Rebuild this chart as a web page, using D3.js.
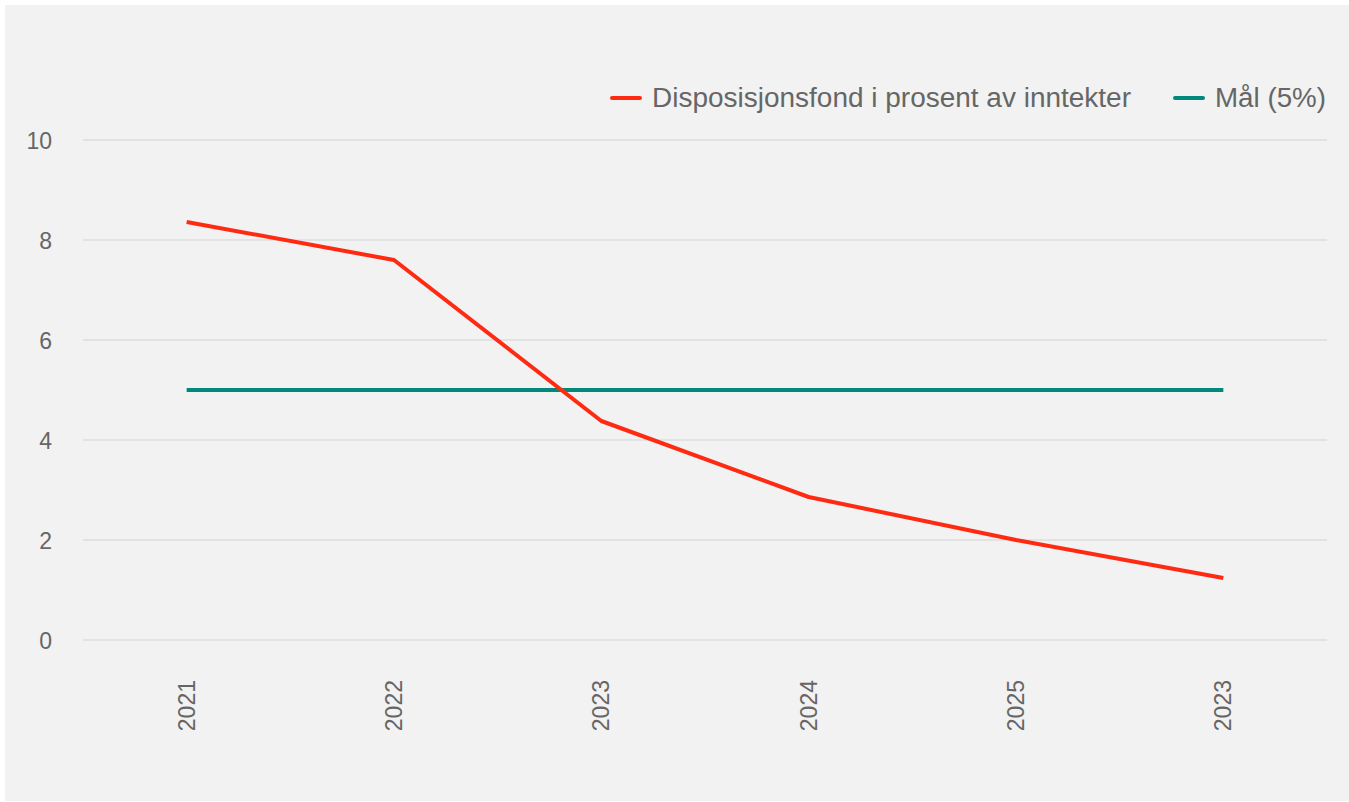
<!DOCTYPE html>
<html>
<head>
<meta charset="utf-8">
<script src="https://cdn.jsdelivr.net/npm/d3@7"></script>
<style>
  body { margin: 0; background: #fff; }
  svg { display: block; }
</style>
</head>
<body>
<div id="chart"></div>
<script>
// data
const years = ["2021", "2022", "2023", "2024", "2025", "2023"];
const fondValues = [8.36, 7.6, 4.38, 2.86, 2.0, 1.24];
const targetValues = [5, 5, 5, 5, 5, 5];
const yTicks = [0, 2, 4, 6, 8, 10];
const seriesNames = ["Disposisjonsfond i prosent av inntekter", "Mål (5%)"];
const seriesColors = ["#ff2a12", "#00897b"];

const W = 1349, H = 802;
const margin = {top: 140, left: 83, right: 22, bottom: 162};
const width = W - margin.left - margin.right,
      height = H - margin.top - margin.bottom;

let svg = d3.select("#chart")
  .append("svg")
  .attr("width", W)
  .attr("height", H);

// gray panel
svg.append("rect")
  .attr("x", 5).attr("y", 5)
  .attr("width", W - 5).attr("height", H - 6)
  .attr("fill", "#f2f2f2");

let g = svg.append("g")
  .attr("transform", `translate(${margin.left},${margin.top})`);

// categories have a repeated label, so use indices for the scale
const x = d3.scaleBand()
  .domain(d3.range(years.length))
  .range([0, width])
  .padding(0);

const y = d3.scaleLinear()
  .domain([0, 10])
  .range([height, 0]);

// gridlines
g.append("g")
  .selectAll("line")
  .data(yTicks)
  .join("line")
  .attr("x1", 0).attr("x2", width)
  .attr("y1", d => y(d)).attr("y2", d => y(d))
  .attr("stroke", "#e2e2e2")
  .attr("stroke-width", 2);

// y axis labels
let yAxis = g.append("g")
  .call(d3.axisLeft(y).tickValues(yTicks).tickSize(0).tickPadding(31));
yAxis.select(".domain").remove();
yAxis.selectAll("text")
  .attr("font-family", "Liberation Sans, Arial, sans-serif")
  .attr("font-size", 23)
  .attr("fill", "#666")
  .attr("dy", "0.35em");

// x axis labels (rotated)
let xAxis = g.append("g")
  .attr("transform", `translate(0,${height})`)
  .call(d3.axisBottom(x).tickSize(0).tickFormat(i => years[i]));
xAxis.select(".domain").remove();
xAxis.selectAll("text")
  .attr("font-family", "Liberation Sans, Arial, sans-serif")
  .attr("font-size", 23)
  .attr("fill", "#666")
  .attr("text-anchor", "end")
  .attr("dy", "0.35em")
  .attr("transform", "translate(0,40) rotate(-90)")
  .attr("x", 0).attr("y", 0);

const line = d3.line()
  .x((d, i) => x(i) + x.bandwidth() / 2)
  .y(d => y(d));

g.append("path")
  .datum(targetValues)
  .attr("fill", "none")
  .attr("stroke", seriesColors[1])
  .attr("stroke-width", 4)
  .attr("d", line);

g.append("path")
  .datum(fondValues)
  .attr("fill", "none")
  .attr("stroke", seriesColors[0])
  .attr("stroke-width", 4)
  .attr("stroke-linejoin", "round")
  .attr("d", line);

// legend
const legendX = [612, 1175];
const legendW = [479, 111];
let legend = svg.append("g")
  .selectAll("g")
  .data(seriesNames)
  .join("g")
  .attr("transform", (d, i) => `translate(${legendX[i]},98)`);

legend.append("line")
  .attr("x1", 0).attr("x2", 28)
  .attr("stroke", (d, i) => seriesColors[i])
  .attr("stroke-width", 4)
  .attr("stroke-linecap", "round");

legend.append("text")
  .attr("x", 40)
  .attr("dy", "0.35em")
  .attr("font-family", "Liberation Sans Narrow, Liberation Sans, Arial, sans-serif")
  .attr("font-size", 27)
  .attr("fill", "#666")
  .attr("textLength", (d, i) => legendW[i])
  .attr("lengthAdjust", "spacingAndGlyphs")
  .text(d => d);
</script>
</body>
</html>
